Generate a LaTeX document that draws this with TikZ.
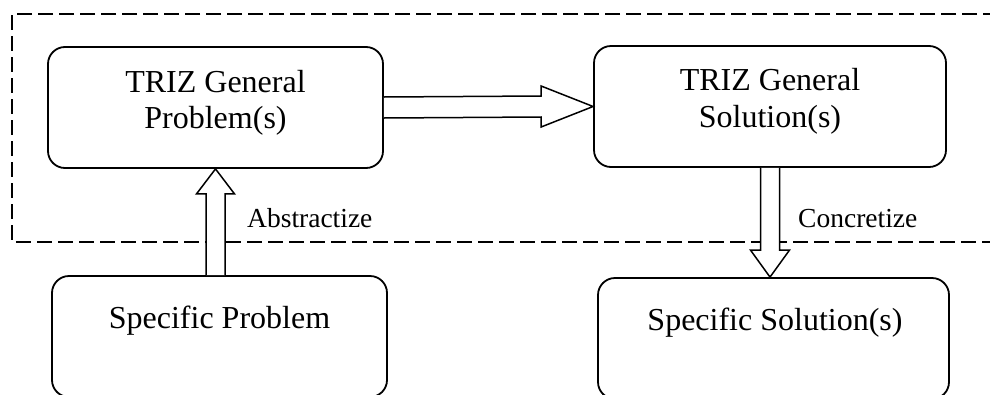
\documentclass[tikz,border=0pt]{standalone}
\usepackage{fontspec}
\setmainfont{Liberation Serif}
\usetikzlibrary{calc}

\tikzset{
  box/.style={draw, line width=1.8pt, rounded corners=17pt, inner sep=0pt},
  boxtext/.style={align=center, font=\fontsize{32}{36}\selectfont, inner sep=0pt},
  steplabel/.style={font=\fontsize{27.5}{30}\selectfont, inner sep=0pt, anchor=base west},
  blockarrow/.style={draw, fill=white, line width=1.5pt, line join=miter},
  frame/.style={draw, line width=1.8pt, dash pattern=on 15pt off 6pt}
}

\begin{document}
\begin{tikzpicture}[x=1pt, y=-1pt]
  \useasboundingbox (0,0) rectangle (990,394);

  % abstraction level frame (open to the right)
  \draw[frame] (998,14) -- (12,14) -- (12,242) -- (998,242);

  % boxes
  \node[box, minimum width=335pt, minimum height=121pt] (gp) at (215.5,107.5) {};
  \node[box, minimum width=352pt, minimum height=121pt] (gs) at (770,106.5) {};
  \node[box, minimum width=335pt, minimum height=121pt] (sp) at (219.5,336.5) {};
  \node[box, minimum width=351pt, minimum height=121pt] (ss) at (773.5,338.5) {};

  % box texts
  \node[boxtext] (gptext) at (215.5,102.5) {TRIZ General\\[-0.3pt]Problem(s)};
  \node[boxtext] (gstext) at (770,101.5) {TRIZ General\\[0.6pt]Solution(s)};
  \node[boxtext] (sptext) at (219.5,320.5) {Specific Problem};
  \node[boxtext] (sstext) at (775,322.5) {Specific Solution(s)};

  % general problem -> general solution
  \draw[blockarrow]
    ($(gp.east)+(0,-10.5)$) -- ($(gs.west)+(-52,-10.5)$) -- ($(gs.west)+(-52,-20.5)$)
    -- (gs.west)
    -- ($(gs.west)+(-52,20.5)$) -- ($(gs.west)+(-52,10.5)$) -- ($(gp.east)+(0,10.5)$);

  % specific problem -> general problem
  \coordinate (upbase) at (sp.north -| gp.south);
  \draw[blockarrow]
    ($(upbase)+(-9.5,0)$) -- ($(gp.south)+(-9.5,25)$) -- ($(gp.south)+(-19,25)$)
    -- (gp.south)
    -- ($(gp.south)+(19,25)$) -- ($(gp.south)+(9.5,25)$) -- ($(upbase)+(9.5,0)$);

  % general solution -> specific solution
  \coordinate (downtip) at (ss.north -| gs.south);
  \draw[blockarrow]
    ($(gs.south)+(-9.5,0)$) -- ($(downtip)+(-9.5,-27)$) -- ($(downtip)+(-19.5,-27)$)
    -- (downtip)
    -- ($(downtip)+(19.5,-27)$) -- ($(downtip)+(9.5,-27)$) -- ($(gs.south)+(9.5,0)$);

  % arrow labels
  \node[steplabel] (abs) at (247,227) {Abstractize};
  \node[steplabel] (con) at (798,227) {Concretize};
\end{tikzpicture}
\end{document}
